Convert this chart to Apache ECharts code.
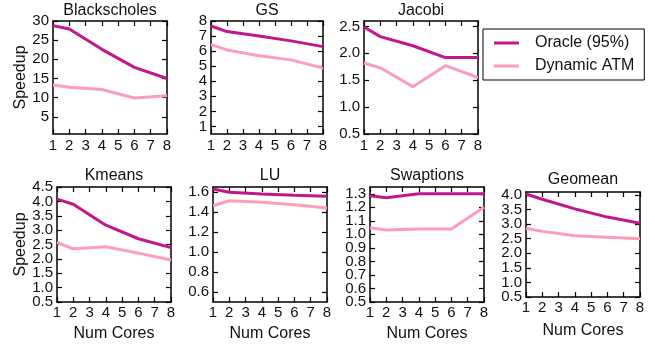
<!DOCTYPE html>
<html><head><meta charset="utf-8">
<script src="https://cdn.jsdelivr.net/npm/echarts@6/dist/echarts.min.js"></script>
<style>html,body{margin:0;padding:0;background:#fff}#c{width:655px;height:345px}</style>
</head><body><div id="c"></div>
<script>
const cores = [1, 2, 4, 6, 8];
const xTicks = [1, 2, 3, 4, 5, 6, 7, 8];
const seriesNames = ['Oracle (95%)', 'Dynamic ATM'];
const titles = ['Blackscholes', 'GS', 'Jacobi', 'Kmeans', 'LU', 'Swaptions', 'Geomean'];

const oracle_blackscholes = [28.8, 27.9, 22.6, 17.9, 15.0];
const dynamic_blackscholes = [13.3, 12.7, 12.1, 9.9, 10.5];
const oracle_gs = [7.67, 7.3, 7.0, 6.68, 6.3];
const dynamic_gs = [6.43, 6.08, 5.69, 5.42, 4.87];
const oracle_jacobi = [2.49, 2.31, 2.14, 1.92, 1.92];
const dynamic_jacobi = [1.82, 1.73, 1.38, 1.77, 1.55];
const oracle_kmeans = [4.08, 3.9, 3.17, 2.7, 2.39];
const dynamic_kmeans = [2.57, 2.35, 2.42, 2.2, 1.96];
const oracle_lu = [1.63, 1.597, 1.58, 1.567, 1.557];
const dynamic_lu = [1.463, 1.513, 1.497, 1.473, 1.44];
const oracle_swaptions = [1.285, 1.27, 1.3, 1.3, 1.3];
const dynamic_swaptions = [1.049, 1.032, 1.039, 1.04, 1.2];
const oracle_geomean = [4.03, 3.85, 3.52, 3.24, 3.03];
const dynamic_geomean = [2.86, 2.75, 2.6, 2.55, 2.5];

const yTicks_blackscholes = [5, 10, 15, 20, 25, 30];
const yTicks_gs = [1, 2, 3, 4, 5, 6, 7, 8];
const yTicks_jacobi = [0.5, 1.0, 1.5, 2.0, 2.5];
const yTicks_kmeans = [0.5, 1.0, 1.5, 2.0, 2.5, 3.0, 3.5, 4.0, 4.5];
const yTicks_lu = [0.6, 0.8, 1.0, 1.2, 1.4, 1.6];
const yTicks_swaptions = [0.5, 0.6, 0.7, 0.8, 0.9, 1.0, 1.1, 1.2, 1.3];
const yTicks_geomean = [0.5, 1.0, 1.5, 2.0, 2.5, 3.0, 3.5, 4.0];

const yMin = [0.5, 0.5, 0.5, 0.5, 0.5, 0.5, 0.5];
const yMax = [30, 8, 2.6, 4.5, 1.65, 1.35, 4.1];
const yDecimals = [0, 0, 1, 1, 1, 1, 1];

const panels = [
  [oracle_blackscholes, dynamic_blackscholes, yTicks_blackscholes],
  [oracle_gs, dynamic_gs, yTicks_gs],
  [oracle_jacobi, dynamic_jacobi, yTicks_jacobi],
  [oracle_kmeans, dynamic_kmeans, yTicks_kmeans],
  [oracle_lu, dynamic_lu, yTicks_lu],
  [oracle_swaptions, dynamic_swaptions, yTicks_swaptions],
  [oracle_geomean, dynamic_geomean, yTicks_geomean]
];

// layout (pixels)
const boxes = [
  {l: 53, t: 21, w: 114, h: 113},
  {l: 211, t: 21, w: 112, h: 113},
  {l: 364, t: 21, w: 114, h: 113},
  {l: 57, t: 187, w: 114, h: 115},
  {l: 213, t: 187, w: 114, h: 115},
  {l: 370, t: 187, w: 114, h: 115},
  {l: 526, t: 192, w: 114, h: 105}
];
const colors = ['#c2178a', '#fc9eb6'];
const FONT = 'Liberation Sans';
const TXT = '#111';

const grid = [], xAxis = [], yAxis = [], series = [], title = [];
panels.forEach((p, i) => {
  const b = boxes[i];
  grid.push({left: b.l, top: b.t, width: b.w, height: b.h, containLabel: false});
  const tickStyle = {show: true, inside: true, length: 5, lineStyle: {color: '#000', width: 1.2}};
  const lineStyle = {show: true, onZero: false, lineStyle: {color: '#000', width: 1.5}};
  const bottomRow = i >= 3;
  xAxis.push({
    type: 'value', gridIndex: i, position: 'bottom', min: 1, max: 8, interval: 1,
    axisLine: lineStyle, axisTick: tickStyle, splitLine: {show: false},
    axisLabel: {show: true, margin: bottomRow ? 3 : 4, fontSize: 15, fontFamily: FONT, color: TXT,
      showMinLabel: true, showMaxLabel: true, hideOverlap: false},
    name: bottomRow ? 'Num Cores' : '', nameLocation: 'middle', nameGap: i === 6 ? 26 : 24,
    nameTextStyle: {fontSize: 16, fontFamily: FONT, color: TXT}
  });
  xAxis.push({
    type: 'value', gridIndex: i, position: 'top', min: 1, max: 8, interval: 1,
    axisLine: lineStyle, axisTick: tickStyle, splitLine: {show: false}, axisLabel: {show: false}
  });
  const ticks = p[2];
  const dec = yDecimals[i];
  const evenTicks = ticks.filter((v, j) => j % 2 === 0);
  const oddTicks = ticks.filter((v, j) => j % 2 === 1);
  const labelBase = {show: true, margin: 4, fontSize: 15, fontFamily: FONT, color: TXT,
    showMinLabel: true, showMaxLabel: true, hideOverlap: false,
    formatter: v => Number(v).toFixed(dec)};
  // main left axis (ticks + even labels); series use this one
  yAxis.push({
    type: 'value', gridIndex: i, position: 'left', min: yMin[i], max: yMax[i],
    axisLine: lineStyle, splitLine: {show: false},
    axisTick: Object.assign({customValues: ticks}, tickStyle),
    axisLabel: Object.assign({customValues: evenTicks}, labelBase),
    name: (i === 0 || i === 3) ? 'Speedup' : '', nameLocation: 'middle', nameGap: i === 0 ? 24 : 28,
    nameTextStyle: {fontSize: 16, fontFamily: FONT, color: TXT}
  });
  // right axis: ticks only
  yAxis.push({
    type: 'value', gridIndex: i, position: 'right', min: yMin[i], max: yMax[i],
    axisLine: lineStyle, splitLine: {show: false},
    axisTick: Object.assign({customValues: ticks}, tickStyle),
    axisLabel: {show: false}
  });
  // second left axis: odd labels only
  yAxis.push({
    type: 'value', gridIndex: i, position: 'left', offset: 0, min: yMin[i], max: yMax[i],
    axisLine: {show: false}, axisTick: {show: false}, splitLine: {show: false},
    axisLabel: Object.assign({customValues: oddTicks}, labelBase)
  });
  [p[0], p[1]].forEach((vals, k) => {
    series.push({
      type: 'line', name: seriesNames[k], xAxisIndex: 2 * i, yAxisIndex: 3 * i,
      data: cores.map((c, j) => [c, vals[j]]),
      showSymbol: false, symbol: 'none', color: colors[k],
      lineStyle: {width: 3, color: colors[k]}, z: 3 - k, animation: false
    });
  });
  title.push({
    text: titles[i], left: b.l + b.w / 2, textAlign: 'center',
    top: i < 3 ? 3 : (i === 6 ? 172 : 168), padding: 0,
    textStyle: {fontSize: 16, fontWeight: 'normal', fontFamily: FONT, color: TXT}
  });
});

const chart = echarts.init(document.getElementById('c'), null, {renderer: 'canvas'});
chart.setOption({
  animation: false,
  backgroundColor: '#fff',
  title: title,
  grid: grid, xAxis: xAxis, yAxis: yAxis, series: series,
  legend: {
    data: seriesNames, orient: 'vertical', left: 483, top: 29,
    borderColor: '#000', borderWidth: 1, borderRadius: 0,
    padding: [6, 10, 6, 11], itemGap: 7, itemWidth: 25, itemHeight: 3, icon: 'rect',
    textStyle: {fontSize: 16, fontFamily: FONT, color: TXT, padding: [0, 0, 0, 11]}
  }
});
</script>
</body></html>
